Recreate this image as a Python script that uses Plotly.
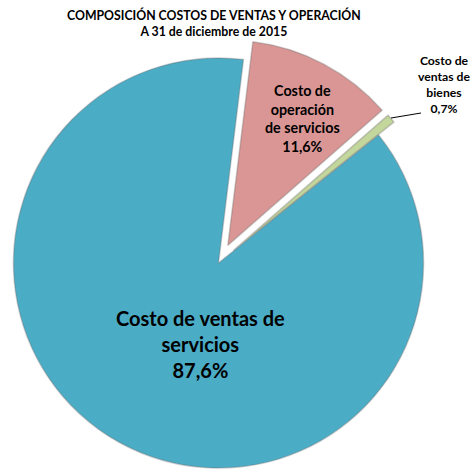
import math
import plotly.graph_objects as go

# Cost composition as of 31 Dec 2015 (percent of total)
categories = ["Costo de operación de servicios", "Costo de ventas de bienes", "Costo de ventas de servicios"]
label_lines = ["Costo de<br>operación<br>de servicios", "Costo de<br>ventas de<br>bienes", "Costo de ventas de<br>servicios"]
values = [11.6, 0.7, 87.6]
colors = ["#D99694", "#C3D69B", "#4BACC6"]
pulled = [True, True, False]

W, H = 475, 470
CX, CY, R = 218.5, 263.0, 205.0   # pie centre / radius in px
ROTATION = 7
PULL_PX = 20

total = sum(values)
fig = go.Figure()

# one trace per slice so the exploded slices can sit outside the main pie
cum = 0.0
for i, v in enumerate(values):
    mid = math.radians(ROTATION + 360.0 * (cum + v / 2) / total)
    cum += v
    dx = PULL_PX * math.sin(mid) if pulled[i] else 0.0
    dy = -PULL_PX * math.cos(mid) if pulled[i] else 0.0
    cx, cy = CX + dx, CY + dy
    slice_colors = [c if j == i else "rgba(0,0,0,0)" for j, c in enumerate(colors)]
    edge_widths = [1.5 if j == i else 0 for j in range(len(values))]
    fig.add_trace(go.Pie(
        labels=categories, values=values, sort=False, direction="clockwise",
        rotation=ROTATION, textinfo="none", hoverinfo="skip", showlegend=False,
        marker=dict(colors=slice_colors,
                    line=dict(width=edge_widths, color="rgba(110,110,110,0.35)")),
        domain=dict(x=[(cx - R) / W, (cx + R) / W],
                    y=[(H - (cy + R)) / H, (H - (cy - R)) / H]),
    ))

def fmt(v):
    return f"{v:.1f}".replace(".", ",") + "%"

def px(x, y):
    return x / W, 1 - y / H

font = "Lato"
annotations = []
# titles
tx, ty = px(214, 23)
annotations.append(dict(x=tx, y=ty, xref="paper", yref="paper", showarrow=False,
                        xanchor="center", yanchor="middle",
                        text="<b>COMPOSICIÓN COSTOS DE VENTAS Y OPERACIÓN<br>A 31 de diciembre de 2015</b>",
                        font=dict(family=font, size=12.3, color="#000")))
# slice labels
label_pos = [(302, 119, 14.3), (444, 84, 12.2), (200, 344, 20)]
for i, (x, y, s) in enumerate(label_pos):
    ax, ay = px(x, y)
    annotations.append(dict(x=ax, y=ay, xref="paper", yref="paper", showarrow=False,
                            xanchor="center", yanchor="middle",
                            text=f"<b>{label_lines[i]}<br>{fmt(values[i])}</b>",
                            font=dict(family=font, size=s, color="#000")))

x0, y0 = px(391, 118)
x1, y1 = px(421, 113)
fig.add_shape(type="line", xref="paper", yref="paper", x0=x0, y0=y0, x1=x1, y1=y1,
              line=dict(color="#000", width=1))

fig.update_layout(width=W, height=H, margin=dict(l=0, r=0, t=0, b=0),
                  paper_bgcolor="white", plot_bgcolor="white", annotations=annotations)
fig.write_html("out.html")
